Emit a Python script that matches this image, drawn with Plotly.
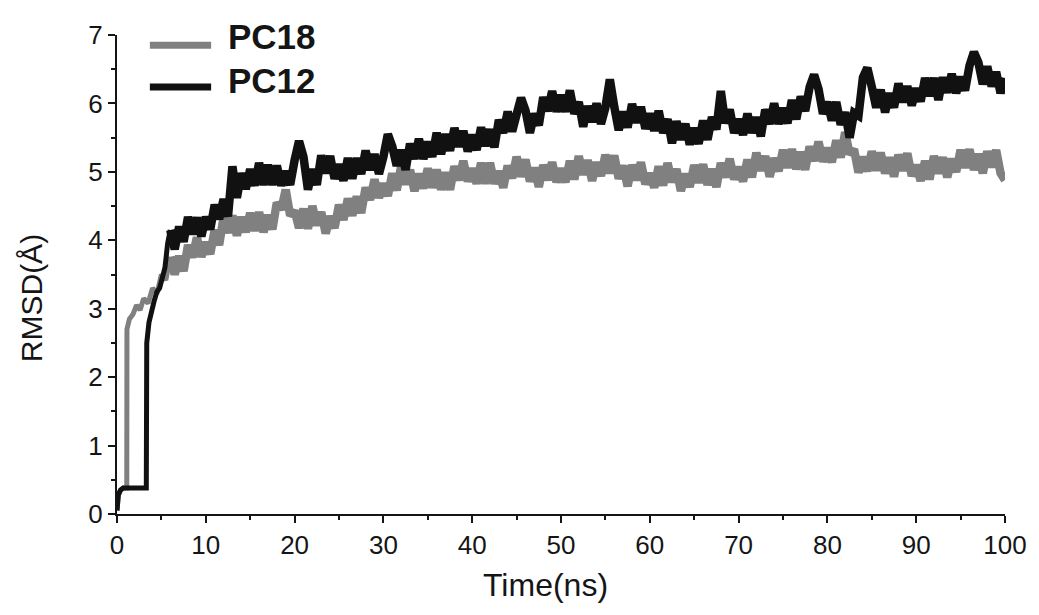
import numpy as np
import plotly.graph_objects as go

# ---- data ----
pc18_early_t = [0, 0.15, 0.4, 0.7, 1.1, 1.12, 1.4, 1.8, 2.2, 2.6, 3.0, 3.5, 4.0, 4.5, 5.0, 5.5]
pc18_early_v = [0.05, 0.28, 0.35, 0.38, 0.38, 2.7, 2.85, 2.92, 3.05, 2.98, 3.15, 3.08, 3.3, 3.22, 3.5, 3.42]

pc12_early_t = [0, 0.15, 0.4, 0.7, 3.3, 3.35, 3.6, 3.9, 4.2, 4.5, 4.8, 5.1, 5.4, 5.7]
pc12_early_v = [0.05, 0.28, 0.35, 0.38, 0.38, 2.5, 2.8, 3.0, 3.12, 3.25, 3.3, 3.45, 3.6, 3.95]

time_main = list(np.arange(6.0, 100.01, 0.5))

pc18_main = [
    3.76, 3.50, 3.77, 3.55, 3.93, 3.75, 4.04, 3.76, 3.97, 3.80,
    4.15, 3.93, 4.33, 4.11, 4.36, 4.07, 4.34, 4.12, 4.40, 4.14,
    4.41, 4.12, 4.37, 4.16, 4.55, 4.45, 4.74, 4.36, 4.43, 4.18,
    4.46, 4.17, 4.50, 4.22, 4.41, 4.10, 4.35, 4.18, 4.52, 4.30,
    4.61, 4.36, 4.64, 4.40, 4.77, 4.59, 4.89, 4.62, 4.83, 4.65,
    4.98, 4.73, 5.08, 4.82, 5.03, 4.72, 4.97, 4.76, 5.05, 4.77,
    5.03, 4.74, 4.99, 4.74, 5.08, 4.88, 5.16, 4.86, 5.05, 4.83,
    5.13, 4.83, 5.13, 4.83, 5.01, 4.77, 5.09, 4.91, 5.22, 4.93,
    5.18, 4.86, 5.06, 4.78, 5.10, 4.88, 5.14, 4.85, 5.05, 4.85,
    5.16, 4.89, 5.23, 4.96, 5.17, 4.87, 5.14, 4.94, 5.25, 4.98,
    5.24, 4.90, 5.09, 4.79, 5.10, 4.88, 5.14, 4.82, 4.98, 4.77,
    5.08, 4.80, 5.13, 4.85, 5.04, 4.72, 4.97, 4.78, 5.10, 4.84,
    5.11, 4.81, 5.04, 4.78, 5.13, 4.92, 5.19, 4.89, 5.07, 4.86,
    5.18, 4.92, 5.28, 5.02, 5.23, 4.93, 5.20, 5.01, 5.32, 5.06,
    5.33, 5.04, 5.29, 5.03, 5.37, 5.16, 5.44, 5.15, 5.35, 5.14,
    5.46, 5.21, 5.58, 5.26, 5.33, 4.99, 5.22, 5.01, 5.30, 5.02,
    5.28, 4.98, 5.21, 4.93, 5.25, 5.02, 5.27, 4.94, 5.10, 4.87,
    5.16, 4.89, 5.23, 4.98, 5.21, 4.92, 5.19, 5.00, 5.32, 5.06,
    5.33, 5.03, 5.26, 4.98, 5.30, 5.07, 5.32, 4.98, 4.88,
]

pc12_main = [
    4.15, 3.87, 4.20, 3.98, 4.34, 4.09, 4.33, 4.06, 4.34, 4.16,
    4.52, 4.31, 4.60, 4.35, 5.08, 4.62, 4.98, 4.75, 5.04, 4.80,
    5.13, 4.81, 5.10, 4.81, 5.09, 4.80, 5.01, 4.81, 5.17, 5.45,
    5.22, 4.74, 5.04, 4.81, 5.24, 4.98, 5.23, 4.90, 5.11, 4.87,
    5.20, 4.90, 5.20, 4.97, 5.31, 5.03, 5.26, 4.97, 5.22, 5.55,
    5.37, 5.09, 5.32, 5.03, 5.41, 5.19, 5.48, 5.19, 5.44, 5.22,
    5.57, 5.26, 5.55, 5.31, 5.64, 5.37, 5.60, 5.30, 5.54, 5.32,
    5.65, 5.38, 5.62, 5.36, 5.76, 5.57, 5.88, 5.59, 5.84, 6.08,
    5.90, 5.57, 5.85, 5.68, 6.09, 5.89, 6.18, 5.88, 6.12, 5.88,
    6.19, 5.85, 6.02, 5.66, 5.96, 5.73, 6.00, 5.70, 5.94, 6.35,
    5.95, 5.61, 5.88, 5.65, 5.99, 5.72, 5.95, 5.63, 5.85, 5.60,
    5.89, 5.57, 5.77, 5.42, 5.74, 5.47, 5.70, 5.40, 5.64, 5.41,
    5.75, 5.47, 5.80, 5.62, 6.18, 5.71, 5.91, 5.57, 5.77, 5.54,
    5.85, 5.57, 5.80, 5.52, 5.91, 5.70, 6.00, 5.70, 5.93, 5.71,
    6.05, 5.77, 6.10, 5.89, 6.24, 6.42, 6.21, 5.85, 6.02, 5.75,
    6.02, 5.69, 5.87, 5.50, 5.86, 5.82, 6.38, 6.52, 6.24, 5.94,
    6.20, 5.87, 6.15, 5.94, 6.29, 6.02, 6.25, 5.97, 6.22, 6.03,
    6.37, 6.11, 6.37, 6.05, 6.38, 6.16, 6.43, 6.15, 6.39, 6.19,
    6.55, 6.75, 6.60, 6.28, 6.54, 6.25, 6.46, 6.15, 6.37,
]

series_names = ["PC18", "PC12"]
series_colors = ["#808080", "#111111"]

x_ticks = [0, 10, 20, 30, 40, 50, 60, 70, 80, 90, 100]
y_ticks = [0, 1, 2, 3, 4, 5, 6, 7]

FONT = "Liberation Sans, Arial, sans-serif"
INK = "#151515"

fig = go.Figure()
series = [
    (pc18_early_t, pc18_early_v, pc18_main, series_names[0], series_colors[0]),
    (pc12_early_t, pc12_early_v, pc12_main, series_names[1], series_colors[1]),
]
for et, ev, mv, name, col in series:
    # early equilibration part: thinner stroke (joined to first main point)
    fig.add_trace(go.Scatter(x=et + time_main[:1], y=ev + mv[:1], mode="lines", name=name,
                             line=dict(color=col, width=5), showlegend=False))
    # noisy production part
    fig.add_trace(go.Scatter(x=time_main, y=mv, mode="lines", name=name,
                             line=dict(color=col, width=8.5), showlegend=False))

# manual legend (long thick sample lines, bold labels)
leg_line_y = [6.85, 6.24]
leg_text_y = [6.98, 6.33]
for i, (name, col) in enumerate(zip(series_names, series_colors)):
    fig.add_shape(type="line", xref="x", yref="y", x0=3.7, x1=10.6,
                  y0=leg_line_y[i], y1=leg_line_y[i], line=dict(color=col, width=7))
    fig.add_annotation(x=12.3, y=leg_text_y[i], xref="x", yref="y", text=f"<b>{name}</b>",
                       showarrow=False, xanchor="left", yanchor="middle",
                       font=dict(family=FONT, size=35, color=INK))

axis_common = dict(showline=True, linecolor=INK, linewidth=2, ticks="outside",
                   tickwidth=2, tickcolor=INK, ticklen=7, showgrid=False,
                   zeroline=False, mirror=False,
                   tickfont=dict(family=FONT, size=26, color=INK))

fig.update_xaxes(range=[0, 100], tickvals=x_ticks, **axis_common,
                 minor=dict(ticks="outside", dtick=5, ticklen=4, tickwidth=1.5, tickcolor=INK))
fig.update_yaxes(range=[0, 7], tickvals=y_ticks, **axis_common,
                 minor=dict(ticks="outside", dtick=0.5, ticklen=4, tickwidth=1.5, tickcolor=INK))

fig.add_annotation(text="Time(ns)", xref="paper", yref="paper", x=0.483, y=-0.148,
                   showarrow=False, xanchor="center", yanchor="middle",
                   font=dict(family=FONT, size=32, color=INK))
fig.add_annotation(text="RMSD(Å)", xref="paper", yref="paper", x=-0.096, y=0.45,
                   showarrow=False, xanchor="center", yanchor="middle", textangle=-90,
                   font=dict(family=FONT, size=30, color=INK))

fig.update_layout(width=1031, height=607, margin=dict(l=109, r=27, t=25, b=101),
                  paper_bgcolor="white", plot_bgcolor="white", font=dict(family=FONT))

fig.write_html("out.html")
